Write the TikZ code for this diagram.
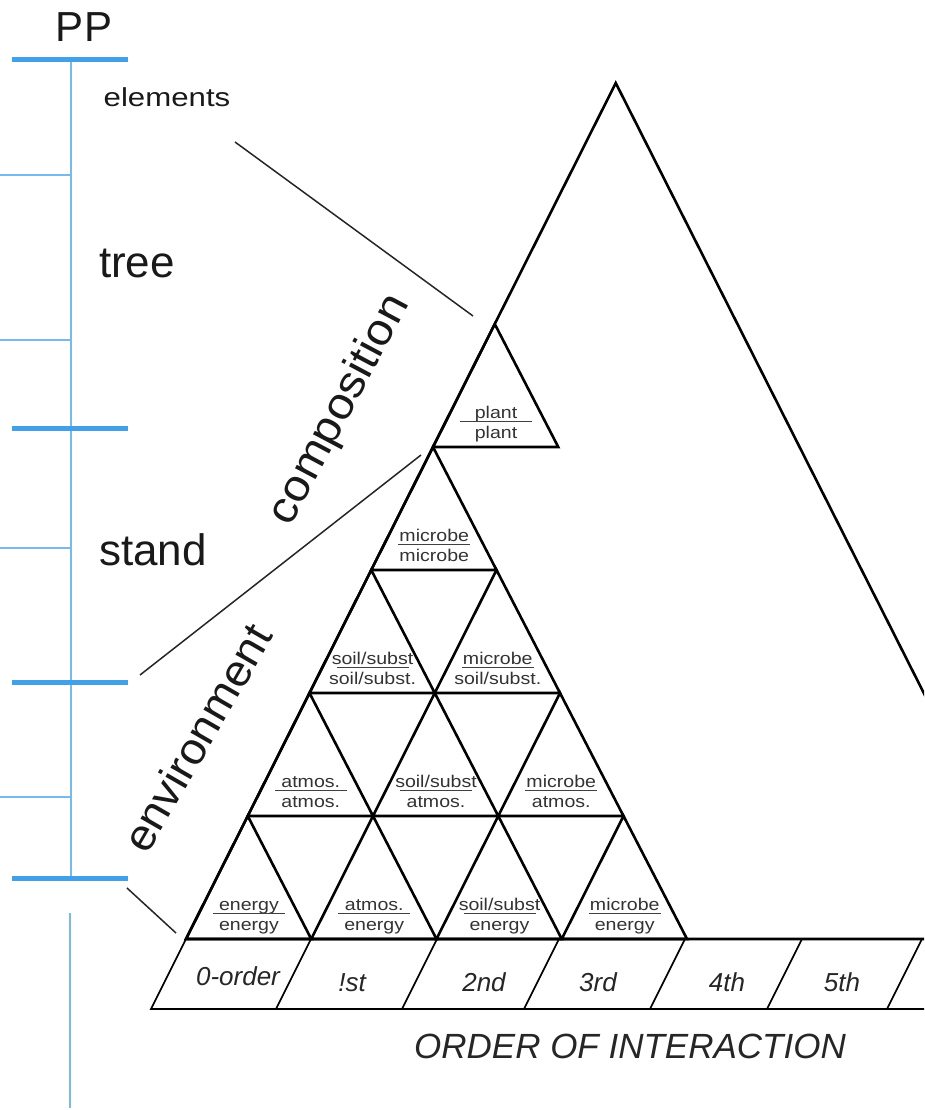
\documentclass[tikz,border=0pt]{standalone}
\usepackage{fontspec}
\setmainfont{Liberation Sans}
\definecolor{scalebar}{RGB}{66,160,232}
\definecolor{scaleline}{RGB}{118,186,238}
\newcommand\setfs[1]{\fontsize{#1}{#1}\selectfont}
\newcommand\wide[2][1.15]{\scalebox{#1}[1]{#2}}
% one labelled cell: name, base-left x, base y, upper word, lower word
\newcommand\cell[5]{%
  \node[tlab] (#1-up) at (#2+63,#3-29) {\wide{#4}};
  \node[tlab] (#1-lo) at (#2+63,#3-9) {\wide{#5}};
  \draw[rulebar] (#2+27,#3-25.5) -- (#2+99,#3-25.5);
}
\begin{document}
\begin{tikzpicture}[x=1pt,y=-1pt,
  tri/.style={line width=2.6pt, line join=miter},
  band/.style={line width=1.7pt},
  leader/.style={line width=1.5pt, black!85},
  rulebar/.style={line width=1.7pt, black!75},
  tlab/.style={font=\setfs{17}, text=black!80, inner sep=0pt, anchor=base},
  olab/.style={font=\setfs{26}\itshape, text=black!85, inner sep=0pt, anchor=base},
  level/.style={font=\setfs{44}, text=black!90, inner sep=0pt, anchor=base},
  side/.style={font=\setfs{44}, text=black!90, inner sep=0pt},
  majortick/.style={scalebar, line width=5pt},
  minortick/.style={scaleline, line width=2pt}
]
\useasboundingbox (0,0) rectangle (924,1110);
\clip (0,0) rectangle (924,1110);
\fill[white] (0,0) rectangle (924,1110);

% ---- level scale on the left ----
\draw[minortick] (71,60) -- (71,878);
\draw[minortick] (70,913) -- (70,1108);
\foreach \y in {175,340,548,797} \draw[minortick] (0,\y) -- (71,\y);
\foreach \y in {60,428,682,878} \draw[majortick] (12,\y) -- (128,\y);

\node[font=\setfs{42}, text=black!90, inner sep=0pt, anchor=base] (pp) at (84,42) {PP};
\node[font=\setfs{26}, text=black!90, inner sep=0pt, anchor=base] (elements) at (167,107) {\wide[1.2]{elements}};
\node[level] (tree) at (137,277) {tree};
\node[level] (stand) at (153,565) {stand};

% ---- side labels ----
\node[side, rotate=62] (composition) at (340,410) {\wide[1.08]{composition}};
\node[side, rotate=60] (environment) at (197,738) {\wide[1.05]{environment}};

% ---- leader lines ----
\coordinate (l1a) at (235,142); \coordinate (l1b) at (473,316);
\coordinate (l2a) at (140,675); \coordinate (l2b) at (421,455);
\coordinate (l3a) at (127,888); \coordinate (l3b) at (176,933);
\draw[leader] (l1a) -- (l1b);
\draw[leader] (l2a) -- (l2b);
\draw[leader] (l3a) -- (l3b);

% ---- large triangle ----
\draw[tri] (1048,939) -- (615.75,83) -- (186,939) -- cycle;

% ---- triangular grid of cells ----
\foreach \r/\n in {0/3,1/2,2/1,3/0,4/0}{
  \foreach \k in {0,...,\n}{
    \draw[tri] (186+125.25*\k+61.75*\r, 939-123*\r) -- ++(125.25,0) -- ++(-63.5,-123) -- cycle;
  }
}

% row 0
\cell{c00}{186}{939}{energy}{energy}
\cell{c01}{311.25}{939}{atmos.}{energy}
\cell{c02}{436.5}{939}{soil/subst}{energy}
\cell{c03}{561.75}{939}{microbe}{energy}
% row 1
\cell{c10}{247.75}{816}{atmos.}{atmos.}
\cell{c11}{373}{816}{soil/subst}{atmos.}
\cell{c12}{498.25}{816}{microbe}{atmos.}
% row 2
\cell{c20}{309.5}{693}{soil/subst}{soil/subst.}
\cell{c21}{434.75}{693}{microbe}{soil/subst.}
% row 3
\cell{c30}{371.25}{570}{microbe}{microbe}
% row 4
\cell{c40}{433}{447}{plant}{plant}

% ---- order band ----
\draw[band] (186,939) -- (151,1009) -- (924,1009);
\foreach \t in {311,437,559,685,802,922} \draw[band] (\t,939) -- (\t-35,1009);

\node[olab] (o0) at (238,985) {0-order};
\node[olab] (o1) at (352,991) {!st};
\node[olab] (o2) at (484,991) {2nd};
\node[olab] (o3) at (598,991) {3rd};
\node[olab] (o4) at (727,991) {4th};
\node[olab] (o5) at (842,991) {5th};

\node[font=\setfs{35}\itshape, text=black!85, inner sep=0pt, anchor=base] (axis) at (630,1058) {ORDER OF INTERACTION};
\end{tikzpicture}
\end{document}
